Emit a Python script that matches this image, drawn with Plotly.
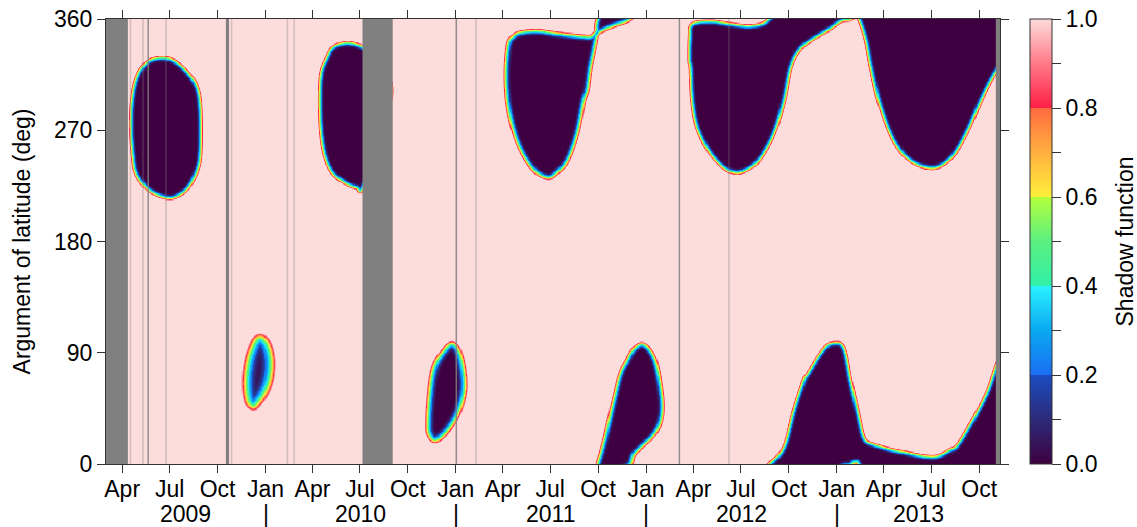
import numpy as np
import pandas as pd
import plotly.graph_objects as go

# ---------------- data ----------------
x_start = "2009-03-01"
x_end = "2013-11-10"

tick_dates = ["2009-04-01", "2009-07-01", "2009-10-01",
              "2010-01-01", "2010-04-01", "2010-07-01", "2010-10-01",
              "2011-01-01", "2011-04-01", "2011-07-01", "2011-10-01",
              "2012-01-01", "2012-04-01", "2012-07-01", "2012-10-01",
              "2013-01-01", "2013-04-01", "2013-07-01", "2013-10-01"]
tick_text = ["Apr", "Jul", "Oct",
             "Jan", "Apr", "Jul", "Oct",
             "Jan", "Apr", "Jul", "Oct",
             "Jan", "Apr", "Jul", "Oct",
             "Jan", "Apr", "Jul", "Oct"]
years = [2009, 2010, 2011, 2012, 2013]
u_ticks = [0, 90, 180, 270, 360]

# Shadow (eclipse) regions: boundary (shadow function = 0.5) as decimal year and
# argument of latitude in degrees (values outside 0..360 wrap around).
a_year = [2009.291, 2009.296, 2009.322, 2009.375, 2009.445, 2009.513, 2009.585, 2009.637, 2009.655,
          2009.655, 2009.637, 2009.585, 2009.513, 2009.460, 2009.392, 2009.339, 2009.313, 2009.303]
a_u = [270.0, 294.3, 313.2, 325.4, 328.9, 326.8, 317.3, 305.1, 286.2,
       253.8, 237.6, 223.0, 215.9, 216.5, 221.3, 229.5, 237.6, 245.7]

b_year = [2010.282, 2010.289, 2010.321, 2010.354, 2010.426, 2010.511, 2010.601, 2010.645, 2010.657,
          2010.645, 2010.601, 2010.511, 2010.478, 2010.426, 2010.354, 2010.312, 2010.289]
b_u = [294.3, 316.2, 329.4, 337.5, 340.8, 337.5, 326.8, 313.0, 302.0,
       291.0, 261.9, 223.8, 224.0, 227.0, 235.1, 248.3, 267.6]

c_year = [2009.979, 2010.007, 2010.023, 2010.015, 2009.987, 2009.949, 2009.930, 2009.907, 2009.898,
          2009.910, 2009.933, 2009.954]
c_u = [101.4, 95.7, 83.5, 68.9, 57.6, 49.5, 47.8, 52.7, 67.3, 83.5, 94.9, 100.5]

d_year = [2010.977, 2011.021, 2011.042, 2011.021, 2010.968, 2010.895, 2010.858, 2010.853, 2010.861,
          2010.879, 2010.916]
d_u = [97.3, 87.6, 64.9, 47.0, 30.8, 19.9, 25.1, 34.9, 55.1, 75.4, 87.6]

e_year = [2011.275, 2011.300, 2011.336, 2011.424, 2011.529, 2011.634, 2011.704, 2011.736,
          2011.722, 2011.704, 2011.687, 2011.669, 2011.634, 2011.582, 2011.529, 2011.485, 2011.424,
          2011.372, 2011.319, 2011.284, 2011.266, 2011.263]
e_u = [340.3, 346.2, 349.2, 350.5, 348.4, 346.5, 345.8, 348.6,
       334.9, 321.3, 302.4, 294.3, 267.3, 245.7, 236.2, 232.1, 236.2,
       245.7, 261.9, 280.8, 299.8, 321.3]

f_year = [2011.741, 2011.737, 2011.744, 2011.774, 2011.827, 2011.862, 2011.897, 2011.932, 2011.976,
          2012.020, 2012.055, 2012.081, 2012.072, 2012.037, 2011.984, 2011.932, 2011.910, 2011.825,
          2011.757]
f_u = [-11.4, -5.0, 0.0, 16.0, 51.1, 72.7, 83.5, 93.0, 97.1,
       91.6, 78.1, 51.1, 34.9, 24.1, 16.0, 7.9, 0.0, -4.9,
       -9.7]

g_year = [2012.239, 2012.335, 2012.424, 2012.529, 2012.598, 2012.640, 2012.718, 2012.771, 2012.823,
          2012.844, 2012.929, 2012.981, 2013.034, 2013.070, 2013.106, 2013.140, 2013.193, 2013.281,
          2013.368, 2013.456, 2013.526, 2013.596, 2013.633, 2013.717, 2013.790, 2013.843, 2013.922,
          2013.922, 2013.850, 2013.806, 2013.754, 2013.684, 2013.613, 2013.543, 2013.473, 2013.386,
          2013.316, 2013.263, 2013.211, 2013.176, 2013.149, 2013.114, 2013.091, 2013.065, 2013.018,
          2012.948, 2012.860, 2012.799, 2012.755, 2012.720, 2012.667, 2012.598, 2012.545, 2012.475,
          2012.405, 2012.326, 2012.265, 2012.239, 2012.230, 2012.224, 2012.226]
g_u = [356.0, 358.3, 356.5, 354.5, 356.0, 360.0, 373.0, 403.0, 427.3,
       433.0, 453.2, 458.1, 454.1, 427.3, 403.0, 381.3, 376.0, 371.9,
       369.2, 366.5, 366.5, 371.9, 376.0, 397.3, 419.2, 442.1, 470.0,
       335.0, 321.3, 310.5, 294.3, 269.9, 251.0, 241.6, 240.2, 245.7,
       257.1, 273.3, 297.6, 321.9, 343.6, 360.0, 362.0, 360.0, 358.6,
       351.1, 343.0, 334.9, 321.3, 294.3, 267.6, 248.3, 240.2, 236.2,
       240.2, 253.8, 272.7, 294.3, 321.3, 326.8, 345.6]

# data gaps
gap_bands = [["2009-02-20", "2009-04-12"], ["2009-10-17", "2009-10-23"],
             ["2010-07-06", "2010-09-02"], ["2013-11-02", "2013-11-20"]]
gap_days_major = ["2009-05-21", "2011-01-02", "2012-03-05"]
gap_days_minor = ["2009-04-17", "2009-05-11", "2009-06-24", "2009-10-28",
                  "2010-02-12", "2010-02-25", "2011-02-09", "2012-06-08"]

# ---------------- layout geometry ----------------
W_FIG, H_FIG = 1137, 527
M_L, M_R, M_T, M_B = 106, 137, 19, 63
PLOT_W = W_FIG - M_L - M_R
PLOT_H = H_FIG - M_T - M_B

x0 = pd.Timestamp(x_start)
x1 = pd.Timestamp(x_end)
span_days = (x1 - x0) / pd.Timedelta(days=1)
kx = PLOT_W / span_days       # px per day
ky = PLOT_H / 360.0           # px per degree


def dec_to_days(arr):
    out = []
    for v in arr:
        yr = int(np.floor(v))
        a = pd.Timestamp(yr, 1, 1)
        b = pd.Timestamp(yr + 1, 1, 1)
        ts = a + (b - a) * (v - yr)
        out.append((ts - x0) / pd.Timedelta(days=1))
    return np.array(out)


def catmull_closed(vx, vy, sub=8):
    n = len(vx)
    P = np.stack([vx, vy], axis=1)
    out = []
    ts = np.linspace(0, 1, sub, endpoint=False)
    for i in range(n):
        p0, p1, p2, p3 = P[(i - 1) % n], P[i], P[(i + 1) % n], P[(i + 2) % n]
        for t in ts:
            t2, t3 = t * t, t * t * t
            pt = 0.5 * ((2 * p1) + (-p0 + p2) * t + (2 * p0 - 5 * p1 + 4 * p2 - p3) * t2
                        + (-p0 + 3 * p1 - 3 * p2 + p3) * t3)
            out.append(pt)
    out = np.array(out)
    return out[:, 0], out[:, 1]


def signed_dist(px, py, vx, vy):
    inside = np.zeros(px.shape, dtype=bool)
    d2 = np.full(px.shape, np.inf)
    n = len(vx)
    for i in range(n):
        xa, ya = vx[i], vy[i]
        xb, yb = vx[(i + 1) % n], vy[(i + 1) % n]
        dx, dy = xb - xa, yb - ya
        L2 = dx * dx + dy * dy
        if L2 == 0:
            continue
        t = np.clip(((px - xa) * dx + (py - ya) * dy) / L2, 0, 1)
        ex = px - (xa + t * dx)
        ey = py - (ya + t * dy)
        d2 = np.minimum(d2, ex * ex + ey * ey)
        if dy != 0:
            cond = ((ya > py) != (yb > py)) & (px < xa + (py - ya) * dx / dy)
            inside ^= cond
    d = np.sqrt(d2)
    return np.where(inside, -d, d)


grid_dates = pd.date_range(x0 - pd.Timedelta(days=4), x1 + pd.Timedelta(days=6), freq="2D")
gx = ((grid_dates - x0) / pd.Timedelta(days=1)).values.astype(float) * kx
u_grid = np.arange(0, 360.5, 1.0)
gy = u_grid * ky
PX, PY = np.meshgrid(gx, gy)
z = np.ones_like(PX)

regions = [
    (a_year, a_u, 7.0, 1.5, 0.0),
    (b_year, b_u, 7.0, 1.5, 0.0),
    (c_year, c_u, 18.0, 2.0, 0.04),
    (d_year, d_u, 11.0, 1.7, 0.0),
    (e_year, e_u, 8.0, 1.5, 0.0),
    (f_year, f_u, 8.0, 1.5, 0.0),
    (g_year, g_u, 7.0, 1.5, 0.0),
]

for yrs, us, Wd, p, zmn in regions:
    vx_raw = dec_to_days(yrs) * kx
    vy_raw = np.array(us, dtype=float) * ky
    vx, vy0 = catmull_closed(vx_raw, vy_raw, sub=7)
    t0 = ((0.5 - zmn) / (1 - zmn)) ** (1.0 / p)
    m = Wd + 3
    for shift in (-360.0, 0.0, 360.0):
        vy = vy0 + shift * ky
        ci = (gx >= vx.min() - m) & (gx <= vx.max() + m)
        ri = (gy >= vy.min() - m) & (gy <= vy.max() + m)
        if not ci.any() or not ri.any():
            continue
        ix = np.ix_(ri, ci)
        sd = signed_dist(PX[ix], PY[ix], vx, vy)
        t = np.clip(t0 + sd / Wd, 0, 1)
        z[ix] *= zmn + (1 - zmn) * t ** p

z = np.round(z, 3)

colorscale = [
    [0.0, "#3e0040"], [0.1, "#2c2a78"], [0.2, "#1b4cc0"],
    [0.2, "#1a6ef2"], [0.3, "#0aa8f0"], [0.4, "#2af2ff"],
    [0.4, "#30f0a8"], [0.5, "#5cf080"], [0.6, "#b4ff3c"],
    [0.6, "#fff03a"], [0.7, "#ffb040"], [0.8, "#ff6a3e"],
    [0.8, "#ff1f45"], [0.9, "#ff7a88"], [1.0, "#fddcdc"],
]

FONT = "Liberation Sans, Arial, Helvetica, sans-serif"
FS = 23
AX = "#333333"

cb_vals = [round(0.1 * i, 1) for i in range(11)]
cb_text = [f"{v:.1f}" if i % 2 == 0 else "" for i, v in enumerate(cb_vals)]

fig = go.Figure()
fig.add_trace(go.Heatmap(
    x=grid_dates, y=u_grid, z=z,
    colorscale=colorscale, zmin=0, zmax=1, zsmooth="best",
    hoverinfo="skip",
    colorbar=dict(
        x=(1030 - M_L) / PLOT_W, xanchor="left", xpad=0,
        y=0.5, yanchor="middle", ypad=0,
        len=1, lenmode="fraction", thickness=22, thicknessmode="pixels",
        outlinewidth=1, outlinecolor=AX,
        tickmode="array", tickvals=cb_vals, ticktext=cb_text,
        ticks="outside", ticklen=9, tickwidth=1, tickcolor=AX,
        ticklabeloverflow="allow",
        tickfont=dict(family=FONT, size=FS, color="black"),
    ),
))

shapes = []
for s, e in gap_bands:
    shapes.append(dict(type="rect", xref="x", yref="y domain", x0=s, x1=e, y0=0, y1=1,
                       fillcolor="#808080", line=dict(width=0), layer="above"))
for d in gap_days_major:
    shapes.append(dict(type="line", xref="x", yref="y domain", x0=d, x1=d, y0=0, y1=1,
                       line=dict(color="rgba(128,128,128,0.85)", width=1.5), layer="above"))
for d in gap_days_minor:
    shapes.append(dict(type="line", xref="x", yref="y domain", x0=d, x1=d, y0=0, y1=1,
                       line=dict(color="rgba(128,128,128,0.35)", width=1.5), layer="above"))

# year labels centred 513.5 px from the top
YEAR_Y = (PLOT_H - (513.5 - M_T)) / PLOT_H
annotations = []
for yv in years:
    a = max(pd.Timestamp(yv, 1, 1), x0)
    b = min(pd.Timestamp(yv + 1, 1, 1), x1)
    c = a + (b - a) / 2
    annotations.append(dict(x=c, y=YEAR_Y, xref="x", yref="paper",
                            text=str(yv), showarrow=False, xanchor="center", yanchor="middle",
                            font=dict(family=FONT, size=FS, color="black")))
    jan = pd.Timestamp(yv, 1, 1)
    if x0 < jan < x1:
        annotations.append(dict(x=jan, y=YEAR_Y, xref="x", yref="paper",
                                text="|", showarrow=False, xanchor="center", yanchor="middle",
                                font=dict(family=FONT, size=FS, color="black")))

# colorbar title
annotations.append(dict(x=(1124 - M_L) / PLOT_W, y=0.5, xref="paper", yref="paper",
                        text="Shadow function", textangle=-90, showarrow=False,
                        xanchor="center", yanchor="middle",
                        font=dict(family=FONT, size=FS, color="black")))

fig.update_layout(
    width=W_FIG, height=H_FIG, autosize=False,
    margin=dict(l=M_L, r=M_R, t=M_T, b=M_B, pad=0, autoexpand=False),
    paper_bgcolor="white", plot_bgcolor="white",
    font=dict(family=FONT, size=FS, color="black"),
    shapes=shapes, annotations=annotations,
    xaxis=dict(type="date", range=[x_start, x_end], tickmode="array",
               tickvals=tick_dates, ticktext=tick_text, ticks="outside", ticklen=8,
               tickwidth=1, tickcolor=AX, showline=True, linecolor=AX, linewidth=1,
               mirror="ticks", showgrid=False, zeroline=False, automargin=False,
               ticklabelstandoff=-4, ticklabeloverflow="allow",
               tickfont=dict(family=FONT, size=FS, color="black")),
    yaxis=dict(range=[0, 360], tickmode="array", tickvals=u_ticks, ticks="outside",
               ticklen=8, tickwidth=1, tickcolor=AX, showline=True, linecolor=AX,
               linewidth=1, mirror="ticks", showgrid=False, zeroline=False, automargin=False,
               ticklabeloverflow="allow",
               tickfont=dict(family=FONT, size=FS, color="black"),
               title=dict(text="Argument of latitude (deg)", standoff=16,
                          font=dict(family=FONT, size=FS, color="black"))),
)

fig.write_html(
    "out.html",
    config={"displayModeBar": False, "staticPlot": True},
    post_script="document.body.style.margin='0';document.body.style.overflow='hidden';"
                "document.documentElement.style.overflow='hidden';",
)
